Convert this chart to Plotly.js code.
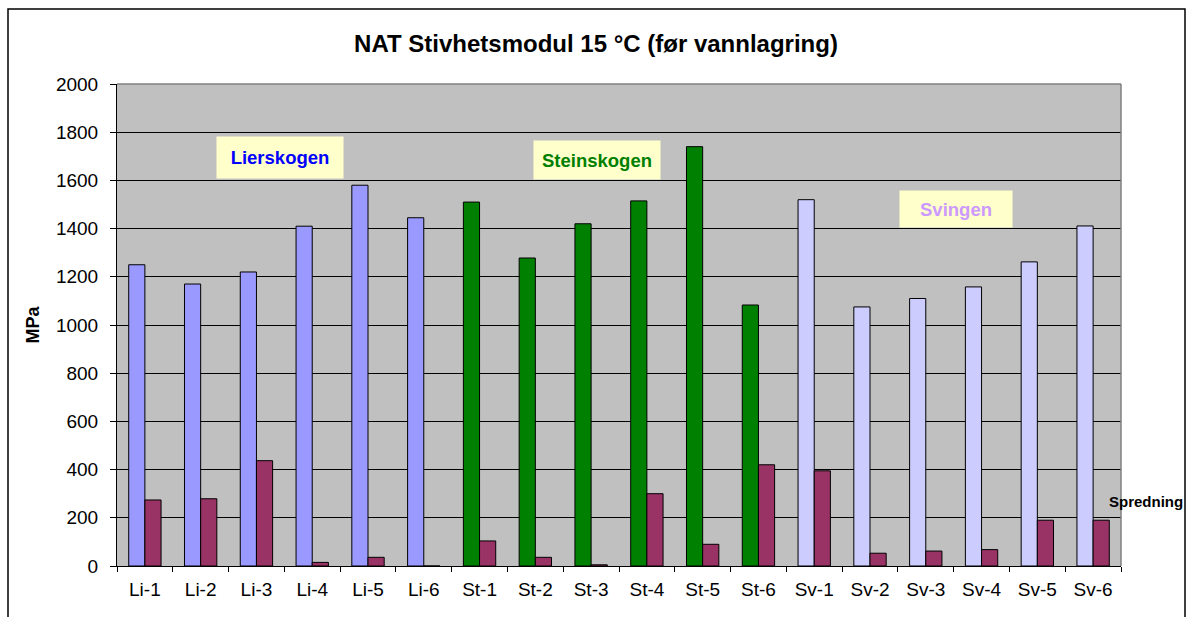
<!DOCTYPE html>
<html>
<head>
<meta charset="utf-8">
<script src="https://cdn.plot.ly/plotly-3.0.1.min.js"></script>
<style>html,body{margin:0;padding:0;background:#fff;}#chart{width:1192px;height:617px;}</style>
</head>
<body>
<div id="chart"></div>
<script>
const categories = ['Li-1','Li-2','Li-3','Li-4','Li-5','Li-6','St-1','St-2','St-3','St-4','St-5','St-6','Sv-1','Sv-2','Sv-3','Sv-4','Sv-5','Sv-6'];
const stiffness = [1250,1170,1220,1410,1580,1445,1510,1278,1420,1515,1740,1083,1520,1075,1110,1158,1262,1411];
const spread = [274,279,437,15,36,0,104,36,5,300,90,420,395,53,62,68,190,190];
const groupNames = ['Lierskogen','Steinskogen','Svingen'];

const groupColor = {Li:'#9999FF', St:'#008000', Sv:'#CCCCFF'};
const mainColors = categories.map(c => groupColor[c.split('-')[0]]);
const FONT = 'Liberation Sans, Arial, sans-serif';

const traces = [
  {type:'bar', x:categories, y:stiffness, name:'Stivhetsmodul',
   marker:{color:mainColors, line:{color:'#000', width:1}}, showlegend:false},
  {type:'bar', x:categories, y:spread, name:'Spredning',
   marker:{color:'#993366', line:{color:'#000', width:1}}, showlegend:false}
];

const L=117, R=1121, T=84, B=566;
const W=1192, H=617;
const px = x => (x-L)/(R-L);
const py = y => (B-y)/(B-T);

const layout = {
  width:W, height:H,
  margin:{l:L, r:W-R, t:T, b:H-B, pad:0},
  paper_bgcolor:'#ffffff',
  plot_bgcolor:'#C0C0C0',
  barmode:'group', bargap:0.42, bargroupgap:0,
  font:{family:FONT, size:19, color:'#000'},
  title:{text:'<b>NAT Stivhetsmodul 15 °C (før vannlagring)</b>', font:{family:FONT, size:24, color:'#000'}, x:0.5, xanchor:'center', y:1-44/H, yanchor:'middle'},
  xaxis:{type:'category', showline:true, linecolor:'#000', linewidth:1, ticks:'outside', ticklen:5, tickcolor:'#000', tickson:'boundaries', showgrid:false, tickfont:{family:FONT, size:19}, ticklabelstandoff:6, fixedrange:true},
  yaxis:{range:[0,2000], dtick:200, showline:true, linecolor:'#000', linewidth:1, ticks:'outside', ticklen:6, tickcolor:'#000', showgrid:true, gridcolor:'#000', gridwidth:1, zeroline:false, tickfont:{family:FONT, size:19}, ticklabelstandoff:8,
         title:{text:'<b>MPa</b>', font:{family:FONT, size:18}, standoff:11}, fixedrange:true},
  shapes:[
    {type:'line', xref:'paper', yref:'paper', x0:0, x1:1, y0:1, y1:1, line:{color:'#808080', width:1.5}},
    {type:'line', xref:'paper', yref:'paper', x0:1, x1:1, y0:0, y1:1, line:{color:'#808080', width:1.5}},
    {type:'rect', xref:'paper', yref:'paper', x0:px(8), x1:px(1185), y0:py(625), y1:py(9), line:{color:'#000', width:1.5}, fillcolor:'rgba(0,0,0,0)'}
  ],
  annotations:[
    {xref:'paper', yref:'paper', x:px(280), y:py(157.5), text:'<b>'+groupNames[0]+'</b>', showarrow:false, bgcolor:'#FFFFCC', width:126, height:41, borderpad:0, font:{family:FONT, size:18.5, color:'#0000FF'}, xanchor:'center', yanchor:'middle'},
    {xref:'paper', yref:'paper', x:px(597), y:py(160), text:'<b>'+groupNames[1]+'</b>', showarrow:false, bgcolor:'#FFFFCC', width:126, height:38, borderpad:0, font:{family:FONT, size:18.5, color:'#008000'}, xanchor:'center', yanchor:'middle'},
    {xref:'paper', yref:'paper', x:px(956), y:py(209), text:'<b>'+groupNames[2]+'</b>', showarrow:false, bgcolor:'#FFFFCC', width:112, height:36, borderpad:0, font:{family:FONT, size:18.5, color:'#CC99FF'}, xanchor:'center', yanchor:'middle'},
    {xref:'paper', yref:'paper', x:px(1107), y:py(501), text:'<b>Spredning</b>', showarrow:false, font:{family:FONT, size:15, color:'#000'}, xanchor:'left', yanchor:'middle'}
  ]
};

Plotly.newPlot('chart', traces, layout, {displayModeBar:false, staticPlot:true});
</script>
</body>
</html>
